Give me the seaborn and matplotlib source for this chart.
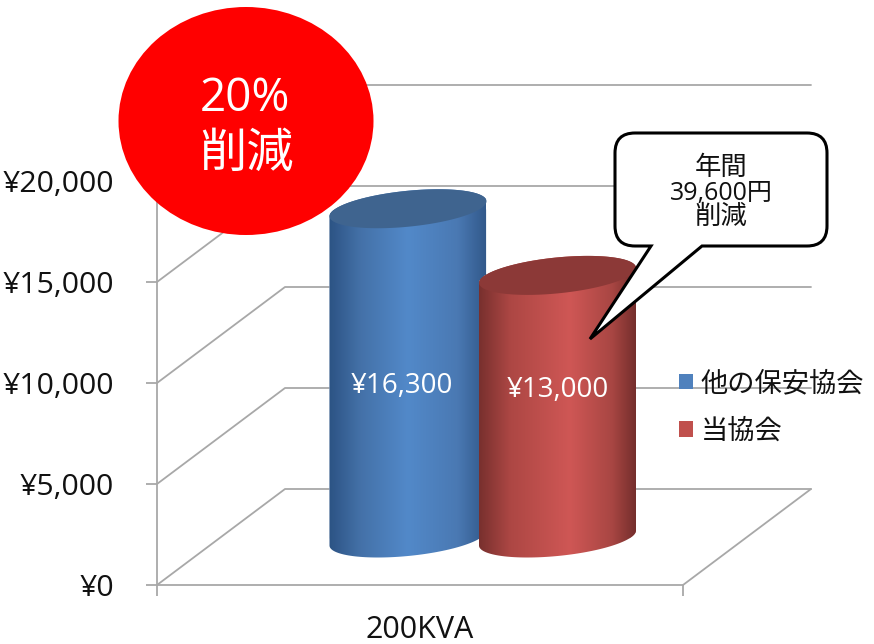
import matplotlib
matplotlib.use("Agg")
import matplotlib.pyplot as plt
from matplotlib.colors import LinearSegmentedColormap
from matplotlib.patches import Ellipse, Patch, PathPatch, Polygon
from matplotlib.path import Path
import numpy as np
import pandas as pd
import seaborn as sns

series = ["他の保安協会", "当協会"]
monthly_cost = [16300, 13000]
category = "200KVA"
axis_ticks = [0, 5000, 10000, 15000, 20000]
badge_lines = ["20%", "削減"]
callout_lines = ["年間", "39,600円", "削減"]

W, H = 874, 644
PX_PER_YEN = 0.0202
FLOOR_Y = 585
DEPTH_X, DEPTH_Y = 128, 96
GRID = "#a8a8a8"

sns.set_theme(style="white")
plt.rcParams["font.family"] = ["Open Sans", "Noto Sans CJK JP", "DejaVu Sans"]

fig = plt.figure(figsize=(W / 100, H / 100), dpi=100)

# wall and floor of the fake 3d box
ax = fig.add_axes([157 / W, (H - FLOOR_Y) / H, 526 / W, 500 / H])
ax.set_xlim(157, 683)
ax.set_ylim(0, 500 / PX_PER_YEN)
ax.patch.set_alpha(0)
sns.despine(ax=ax, top=True, right=True)
for side in ["left", "bottom"]:
    ax.spines[side].set_color(GRID)
    ax.spines[side].set_linewidth(1.3)
ax.spines["left"].set_bounds(0, 20000)
ax.set_yticks(axis_ticks, [f"¥{v:,}" for v in axis_ticks], fontsize=21.8, color="#111111")
ax.set_xticks([157, 683], ["", ""])
ax.tick_params(axis="y", left=True, length=8, width=1.3, color=GRID, pad=23)
ax.tick_params(axis="x", bottom=True, length=8, width=1.3, color=GRID)
ax.set_xlabel(category, fontsize=22, color="#111111", labelpad=10)
depth_val = DEPTH_Y / PX_PER_YEN
for v in axis_ticks:
    ax.plot([157, 157 + DEPTH_X, 683 + DEPTH_X], [v, v + depth_val, v + depth_val],
            color=GRID, lw=1.3, clip_on=False, zorder=1)
ax.plot([683, 683 + DEPTH_X], [0, depth_val], color=GRID, lw=1.3, clip_on=False)

# cylinders: seaborn bars on a full-figure axes, same yen scale as the wall
BASE_Y, BAR0_X, BAR_STEP = 538, 408, 149.5
bx = fig.add_axes([0, 0, 1, 1], zorder=2)
bx.patch.set_alpha(0)
df = pd.DataFrame({"series": series, "cost": monthly_cost})
palette = ["#4f81bd", "#c0504d"]
sns.barplot(df, x="series", y="cost", hue="series", palette=palette, dodge=False,
            width=157 / BAR_STEP, legend=False, ax=bx)
xlim = (-BAR0_X / BAR_STEP, (W - BAR0_X) / BAR_STEP)
ylim = ((BASE_Y - H) / PX_PER_YEN, BASE_Y / PX_PER_YEN)
bx.set_xlim(xlim)
bx.set_ylim(ylim)
bx.axis("off")

b = 18 / PX_PER_YEN
tilt = 7.5 / PX_PER_YEN
cmaps = [
    LinearSegmentedColormap.from_list("b", [(0, "#2c5384"), (0.2, "#4471a8"), (0.5, "#5289c9"),
                                            (0.82, "#4a79b3"), (1, "#32598b")]),
    LinearSegmentedColormap.from_list("r", [(0, "#78302e"), (0.2, "#ad4744"), (0.58, "#cf5755"),
                                            (0.85, "#a84643"), (1, "#752e2c")]),
]
tops = ["#3f648f", "#8c3937"]
for i, bar in enumerate(bx.patches[:2]):
    x0, w, h = bar.get_x(), bar.get_width(), bar.get_height()
    cx, a = x0 + w / 2, w / 2
    t = np.linspace(0, np.pi, 80)
    lower = np.c_[cx + a * np.cos(t), -b * np.sin(t) + tilt * np.cos(t)]
    upper = np.c_[cx - a * np.cos(t), h + b * np.sin(t) - tilt * np.cos(t)]
    outline = np.r_[lower, upper]
    sil = Polygon(outline, closed=True, transform=bx.transData, fc="none", ec="none")
    bx.add_patch(sil)
    bar.set_zorder(3 + i)
    bar.set_clip_path(sil)
    grad = np.linspace(0, 1, 256).reshape(1, -1)
    im = bx.imshow(grad, cmap=cmaps[i], extent=[x0, x0 + w, -2 * b, h + 2 * b],
                   aspect="auto", zorder=3 + i, interpolation="bilinear")
    im.set_clip_path(sil)
    t2 = np.linspace(0, 2 * np.pi, 160)
    cap = np.c_[cx + a * np.cos(t2), h + b * np.sin(t2) + tilt * np.cos(t2)]
    bx.add_patch(Polygon(cap, closed=True, fc=tops[i], ec="none", zorder=3 + i))
    bx.text(cx - (6 / BAR_STEP if i == 0 else 0), (BASE_Y - (386 if i == 0 else 390)) / PX_PER_YEN,
            f"¥{monthly_cost[i]:,}", color="white", fontsize=20, ha="center", va="center", zorder=6)
bx.set_xlim(xlim)
bx.set_ylim(ylim)

# overlay in pixel coordinates for the badge, the callout and the legend
ov = fig.add_axes([0, 0, 1, 1], zorder=3)
ov.set_xlim(0, W)
ov.set_ylim(H, 0)
ov.axis("off")
ov.add_patch(Ellipse((246, 121), 255, 228, fc="#ff0000", ec="none"))
ov.text(245, 99, badge_lines[0], color="white", fontsize=33, ha="center", va="center")
ov.text(246, 154, badge_lines[1], color="white", fontsize=34, ha="center", va="center")

x0, x1, y0, y1, r = 615, 827, 133, 246, 20
verts = [(x0 + r, y0), (x1 - r, y0), (x1, y0), (x1, y0 + r), (x1, y1 - r), (x1, y1), (x1 - r, y1),
         (702, y1), (590, 339), (651, y1), (x0 + r, y1), (x0, y1), (x0, y1 - r),
         (x0, y0 + r), (x0, y0), (x0 + r, y0), (x0 + r, y0)]
codes = [Path.MOVETO, Path.LINETO, Path.CURVE3, Path.CURVE3, Path.LINETO, Path.CURVE3, Path.CURVE3,
         Path.LINETO, Path.LINETO, Path.LINETO, Path.LINETO, Path.CURVE3, Path.CURVE3,
         Path.LINETO, Path.CURVE3, Path.CURVE3, Path.CLOSEPOLY]
ov.add_patch(PathPatch(Path(verts, codes), fc="white", ec="black", lw=2.2, joinstyle="miter"))
for line, y, size in zip(callout_lines, [168, 193, 217], [19, 18, 19]):
    ov.text(721, y, line, color="#111111", fontsize=size, ha="center", va="center")

handles = [Patch(fc=c, ec="none") for c in palette]
ov.legend(handles, series, loc="center left", bbox_to_anchor=(679, 408), bbox_transform=ov.transData,
          frameon=False, fontsize=19.6, handlelength=0.5, handleheight=0.5, handletextpad=0.3,
          labelspacing=0.72, borderpad=0, borderaxespad=0, labelcolor="#111111")

fig.savefig("out.png", dpi=100)
